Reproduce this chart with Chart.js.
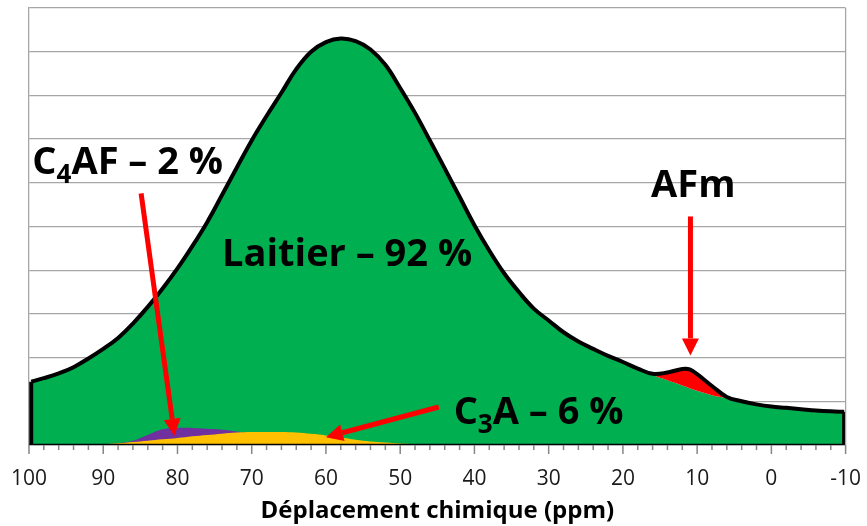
<!DOCTYPE html>
<html>
<head>
<meta charset="utf-8">
<script src="https://cdn.jsdelivr.net/npm/chart.js@4/dist/chart.umd.min.js"></script>
<style>
  body { margin: 0; background: #fff; }
</style>
</head>
<body>
<canvas id="chart" width="867" height="526"></canvas>
<script>
// chemical shift (ppm)
const ppm = [99.7, 98, 96, 94, 92, 90, 88, 86, 84, 82, 80, 78, 76, 74, 72, 70, 68, 66, 64, 62, 60, 58, 56, 54, 52, 50,
  48, 46, 44, 42, 40, 38, 36, 34, 32, 30, 28, 26, 24, 22, 20, 18, 16, 14, 12, 11, 10, 8, 6, 4, 2, 0, -2, -4, -6, -8, -9.8];

// envelope (black line)
const total = [1.45, 1.53, 1.64, 1.78, 1.98, 2.2, 2.45, 2.78, 3.16, 3.58, 4.04, 4.55, 5.1, 5.72, 6.35, 6.97, 7.53, 8.06, 8.6, 9.0, 9.22, 9.3, 9.24, 9.05, 8.7, 8.17,
  7.6, 6.97, 6.33, 5.68, 5.03, 4.45, 3.93, 3.5, 3.12, 2.85, 2.58, 2.37, 2.2, 2.04, 1.9, 1.75, 1.63, 1.66, 1.74, 1.73, 1.62, 1.35, 1.1, 1.0, 0.93, 0.88, 0.85, 0.82, 0.79, 0.77, 0.76];

// top of the green (laitier) area, the AFm band sits between this and total
const laitier = [1.45, 1.53, 1.64, 1.78, 1.98, 2.2, 2.45, 2.78, 3.16, 3.58, 4.04, 4.55, 5.1, 5.72, 6.35, 6.97, 7.53, 8.06, 8.6, 9.0, 9.22, 9.3, 9.24, 9.05, 8.7, 8.17,
  7.6, 6.97, 6.33, 5.68, 5.03, 4.45, 3.93, 3.5, 3.12, 2.85, 2.58, 2.37, 2.2, 2.04, 1.9, 1.75, 1.6, 1.48, 1.36, 1.3, 1.24, 1.14, 1.07, 1.0, 0.93, 0.88, 0.85, 0.82, 0.79, 0.77, 0.76];

const c4af = [0, 0, 0, 0, 0, 0.01, 0.04, 0.1, 0.23, 0.36, 0.39, 0.39, 0.37, 0.35, 0.31, 0.25, 0.17, 0.1, 0.05, 0.02, 0, 0, 0, 0, 0, 0,
  0, 0, 0, 0, 0, 0, 0, 0, 0, 0, 0, 0, 0, 0, 0, 0, 0, 0, 0, 0, 0, 0, 0, 0, 0, 0, 0, 0, 0, 0, 0];

const c3a = [0, 0, 0, 0, 0, 0.02, 0.04, 0.07, 0.1, 0.13, 0.16, 0.2, 0.23, 0.26, 0.285, 0.295, 0.3, 0.295, 0.285, 0.255, 0.22, 0.17, 0.12, 0.08, 0.055, 0.035,
  0.02, 0.01, 0, 0, 0, 0, 0, 0, 0, 0, 0, 0, 0, 0, 0, 0, 0, 0, 0, 0, 0, 0, 0, 0, 0, 0, 0, 0, 0, 0, 0];

const xMin = -10, xMax = 100;

// annotations, in data units
const notes = [
  { parts: [["C", 0], ["4", 1], ["AF – 2 %", 0]], at: [99.55, 6.21] },
  { parts: [["Laitier – 92 %", 0]], at: [74.0, 4.1] },
  { parts: [["C", 0], ["3", 1], ["A – 6 %", 0]], at: [42.8, 0.49] },
  { parts: [["AFm", 0]], at: [16.2, 5.67] },
];
const arrows = [
  { from: [84.9, 5.76], to: [80.4, 0.21] },
  { from: [44.8, 0.87], to: [60.0, 0.18] },
  { from: [10.9, 5.23], to: [10.9, 2.05] },
];

const pts = (vals) => ppm.map((p, i) => ({ x: p, y: vals[i] }));
const isMajor = (v) => Math.abs(v - Math.round(v)) < 1e-6 && Math.round(v) % 10 === 0;

const area = (vals, color, fill) => ({
  data: pts(vals),
  backgroundColor: color,
  borderWidth: 0,
  pointRadius: 0,
  fill: fill,
  tension: 0.4,
});

// straight sides of the envelope outline
const edge = (data, width) => ({
  data: data,
  borderColor: "#000",
  borderWidth: width,
  pointRadius: 0,
  fill: false,
});
const last = ppm.length - 1;

const extras = {
  id: "extras",
  afterDatasetsDraw(chart) {
    const { ctx, chartArea, scales } = chart;
    const sx = scales.x, sy = scales.y;

    // plot frame right side
    ctx.save();
    ctx.strokeStyle = "#A6A6A6";
    ctx.lineWidth = 1.3;
    ctx.beginPath();
    ctx.moveTo(chartArea.right, chartArea.top);
    ctx.lineTo(chartArea.right, chartArea.bottom);
    ctx.stroke();

    // x ticks, long at every 10, short in between
    ctx.strokeStyle = "#868686";
    ctx.lineWidth = 1.5;
    sx.ticks.forEach((t) => {
      const px = sx.getPixelForValue(t.value);
      ctx.beginPath();
      ctx.moveTo(px, chartArea.bottom);
      ctx.lineTo(px, chartArea.bottom + (isMajor(t.value) ? 9 : 5));
      ctx.stroke();
    });

    // arrows
    ctx.strokeStyle = "#FF0000";
    ctx.fillStyle = "#FF0000";
    ctx.lineWidth = 5;
    arrows.forEach((a) => {
      const x0 = sx.getPixelForValue(a.from[0]), y0 = sy.getPixelForValue(a.from[1]);
      const x1 = sx.getPixelForValue(a.to[0]), y1 = sy.getPixelForValue(a.to[1]);
      const ang = Math.atan2(y1 - y0, x1 - x0);
      const head = 17, half = 8.5;
      const bx = x1 - head * Math.cos(ang), by = y1 - head * Math.sin(ang);
      ctx.beginPath();
      ctx.moveTo(x0, y0);
      ctx.lineTo(bx, by);
      ctx.stroke();
      ctx.beginPath();
      ctx.moveTo(x1, y1);
      ctx.lineTo(bx + half * Math.sin(ang), by - half * Math.cos(ang));
      ctx.lineTo(bx - half * Math.sin(ang), by + half * Math.cos(ang));
      ctx.closePath();
      ctx.fill();
    });

    // labels
    ctx.fillStyle = "#000";
    ctx.textBaseline = "alphabetic";
    ctx.textAlign = "left";
    notes.forEach((n) => {
      let x = sx.getPixelForValue(n.at[0]);
      const y = sy.getPixelForValue(n.at[1]);
      n.parts.forEach(([txt, sub]) => {
        ctx.font = sub ? "bold 26px 'Open Sans'" : "bold 38px 'Open Sans'";
        ctx.fillText(txt, x, sub ? y + 9 : y);
        x += ctx.measureText(txt).width;
      });
    });
    ctx.restore();
  },
};

const config = {
  type: "line",
  data: {
    datasets: [
      {
        data: pts(total),
        borderColor: "#000",
        borderWidth: 4,
        borderJoinStyle: "round",
        pointRadius: 0,
        fill: false,
        tension: 0.4,
      },
      edge([{ x: ppm[0], y: 0 }, { x: ppm[0], y: total[0] }], 4),
      edge([{ x: ppm[last], y: 0 }, { x: ppm[last], y: total[last] }], 4),
      edge([{ x: ppm[0], y: 0 }, { x: ppm[last], y: 0 }], 2.5),
      area(c3a, "#FFC000", "origin"),
      area(c4af, "#7030A0", "origin"),
      area(total, "#FF0000", 7),
      area(laitier, "#00B050", "origin"),
    ],
  },
  options: {
    responsive: false,
    animation: false,
    layout: { padding: { left: 29, right: 19, top: 8, bottom: 0 } },
    plugins: { legend: { display: false }, tooltip: { enabled: false } },
    scales: {
      x: {
        type: "linear",
        reverse: true,
        min: xMin,
        max: xMax,
        ticks: {
          stepSize: 2,
          autoSkip: false,
          maxRotation: 0,
          padding: 6,
          color: "#1a1a1a",
          font: { family: "'Open Sans'", size: 21 },
          callback: (v) => (isMajor(v) ? String(Math.round(v)) : ""),
        },
        grid: {
          drawOnChartArea: false,
          tickLength: 15,
          tickColor: "rgba(0,0,0,0)",
        },
        border: { color: "#868686", width: 1.5 },
        title: {
          display: true,
          text: "Déplacement chimique (ppm)",
          color: "#000",
          font: { family: "'Open Sans'", size: 24, weight: "bold" },
          padding: { top: 0, bottom: 0 },
        },
      },
      y: {
        min: 0,
        max: 10,
        ticks: { display: false, stepSize: 1 },
        grid: { color: "#A6A6A6", lineWidth: 1.3, drawTicks: false },
        border: { color: "#A6A6A6", width: 1.3 },
      },
    },
  },
  plugins: [extras],
};

new Chart(document.getElementById("chart").getContext("2d"), config);
</script>
</body>
</html>
